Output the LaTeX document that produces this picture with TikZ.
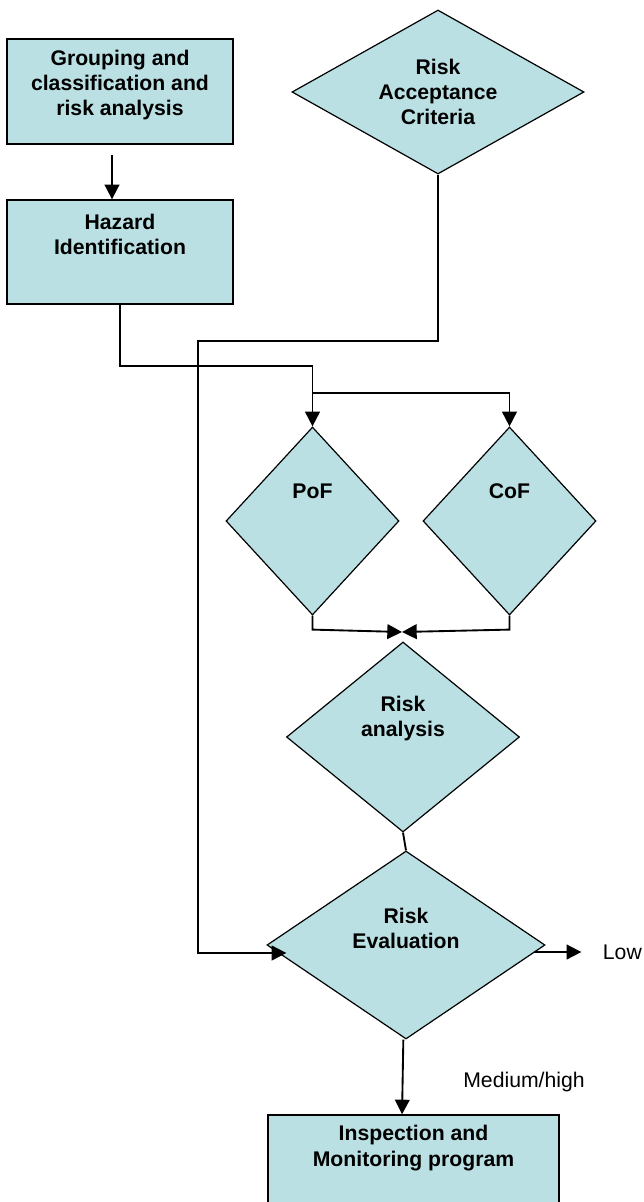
\documentclass[tikz,border=0pt]{standalone}
\usepackage{fontspec}
\setmainfont{Liberation Sans}
\usepackage{xcolor}
\usetikzlibrary{positioning, shapes.geometric, arrows.meta}
\definecolor{rkCyan}{RGB}{186, 224, 227}
\tikzset{
    base/.style={
        font=\fontsize{15.9}{18.8}\selectfont,
        align=center
    },
    txt/.style={
        base,
        font=\fontsize{15.9}{18.8}\selectfont\bfseries,
        text=black,
        inner sep=0pt
    },
    proc/.style={
        rectangle,
        draw=black,
        line width=1pt,
        fill=rkCyan,
        inner sep=0pt
    },
    dec/.style={
        diamond,
        draw=black,
        line width=0.9pt,
        fill=rkCyan,
        inner sep=0pt
    },
    flow/.style={
        -{Triangle[length=11pt, width=11pt]},
        line width=1.4pt,
        color=black
    },
    link/.style={
        line width=1.4pt,
        color=black
    },
    note/.style={
        base,
        inner sep=2pt
    }
}
\begin{document}
\begin{tikzpicture}[x=0.75pt, y=-0.75pt]
    \useasboundingbox (0,0) rectangle (643,1202);

    % Left column boxes
    \node[proc, minimum width=169.5pt, minimum height=78.75pt,
        label={[txt, yshift=4.9pt]center:{Grouping and\\classification and\\risk analysis}}] (grp) at (120,91.5) {};
    \node[proc, minimum width=169.5pt, minimum height=78pt,
        label={[txt, yshift=13.5pt]center:{Hazard\\Identification}}] (haz) at (120,252) {};

    % Acceptance criteria
    \node[dec, minimum width=219pt, minimum height=123pt,
        label={[txt]center:{Risk\\Acceptance\\Criteria}}] (rac) at (438,92) {};

    % PoF and CoF
    \node[dec, minimum width=129.75pt, minimum height=141pt,
        label={[txt, yshift=22.5pt]center:PoF}] (pof) at (312.5,521) {};
    \node[dec, minimum width=129.75pt, minimum height=141pt,
        label={[txt, yshift=22.5pt]center:CoF}] (cof) at (509.5,521) {};

    % Analysis and evaluation
    \node[dec, minimum width=174.75pt, minimum height=142.5pt,
        label={[txt, yshift=13.9pt]center:{Risk\\analysis}}] (ra) at (403,737) {};
    \node[dec, minimum width=208.5pt, minimum height=141pt,
        label={[txt, yshift=12.4pt]center:{Risk\\Evaluation}}] (re) at (406,945) {};

    % Outcome
    \node[proc, minimum width=218.25pt, minimum height=78.75pt,
        label={[txt, yshift=14.6pt]center:{Inspection and\\Monitoring program}}] (imp) at (413.5,1167.5) {};
    \node[note, anchor=west] (low) at (600,952) {Low};
    \node[note] (mh) at (524,1082) {Medium/high};

    \coordinate (split) at (312.5,393);
    \coordinate (join) at (402,632);
    \coordinate (bend) at (198,341);

    % Connectors
    \draw[flow] ([xshift=-6pt, yshift=-8pt]grp.south) -- ([xshift=-6pt]haz.north);
    \draw[flow] (haz.south) -- ++(0,61) -| (pof.north);
    \draw[flow] (split) -| (cof.north);
    \draw[flow] (pof.south) -- ++(0,14) -- (join);
    \draw[flow] (cof.south) -- ++(0,14) -- (join);
    \draw[link] (ra.south) -- (re.north);
    \draw[flow] (rac.south) |- (bend) |- ([shift={(15pt,-6pt)}]re.west);
    \draw[flow] ([shift={(-9pt,-5.25pt)}]re.east) -- ([xshift=-14pt]low.west);
    \draw[flow] ([xshift=-2pt]re.south) -- ([xshift=-8.6pt]imp.north);

\end{tikzpicture}
\end{document}
